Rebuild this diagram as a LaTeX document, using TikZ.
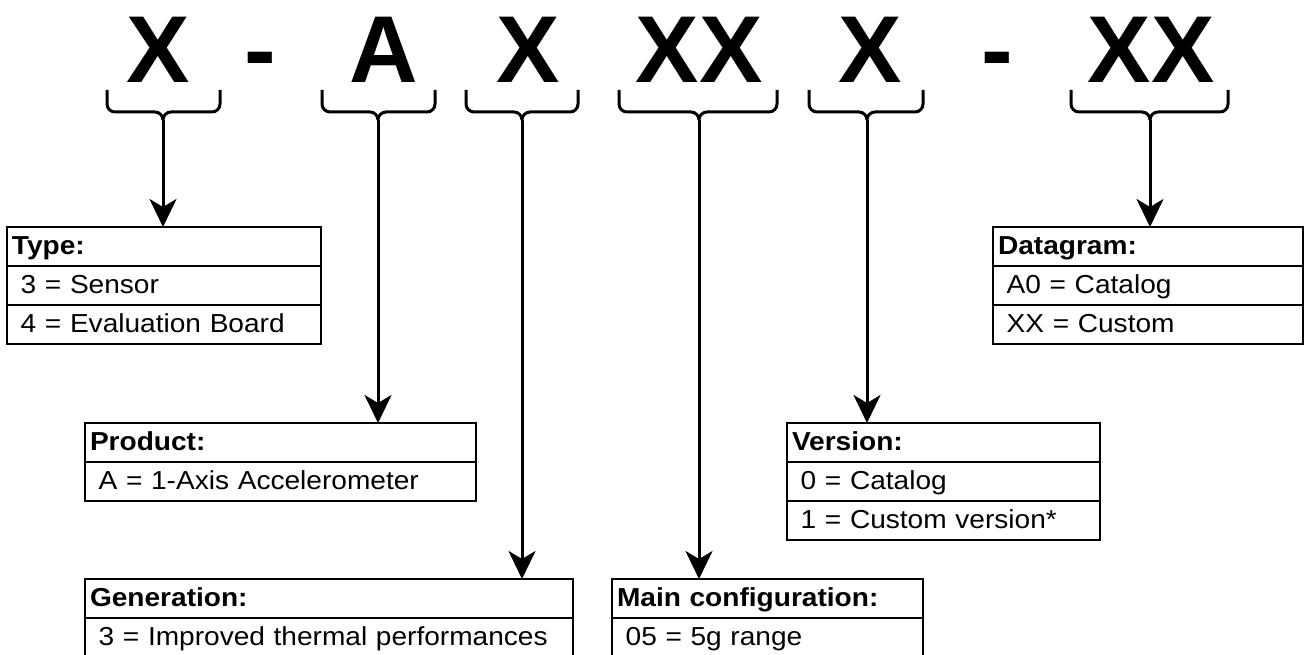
\documentclass[tikz,border=0pt]{standalone}
\usepackage{fontspec}
\setmainfont{Liberation Sans}[FakeStretch=1.08]
\newfontfamily\codefont{Liberation Sans}
\usetikzlibrary{arrows.meta, positioning}

\begin{document}
\begin{tikzpicture}[x=1pt, y=-1pt,
    code/.style={font=\codefont\fontsize{95}{95}\selectfont\bfseries, inner sep=0pt, anchor=base},
    brace/.style={line width=3pt, rounded corners=8pt},
    link/.style={line width=3pt, -{Stealth[length=28pt, width=27pt, inset=8pt]}},
    row/.style={draw, line width=1.8pt, text width=#1, inner xsep=5pt, inner ysep=0pt,
                outer sep=0pt, minimum height=39pt, text height=20pt, text depth=5pt,
                font=\fontsize{26}{30}\selectfont},
    head/.style={row=#1, anchor=north west, font=\fontsize{26}{30}\selectfont\bfseries}]
      \useasboundingbox (0,0) rectangle (1306,655);

      % Nodes
      \node[code] (xt) at (158, 83) {X};
      \node[code] (h1) at (260, 83) {-};
      \node[code] (xp) at (384, 83) {A};
      \node[code] (xg) at (528, 83) {X};
      \node[code] (xm) at (699, 83) {XX};
      \node[code] (xv) at (870, 83) {X};
      \node[code] (h2) at (997, 83) {-};
      \node[code] (xd) at (1151, 83) {XX};

      \node[head=304pt] (type) at (7, 227) {Type:};
      \node[row=304pt, below=0pt of type] (type1) {\ 3 = Sensor};
      \node[row=304pt, below=0pt of type1] (type2) {\ 4 = Evaluation Board};

      \node[head=381pt] (prod) at (85, 423) {Product:};
      \node[row=381pt, below=0pt of prod] (prod1) {\ A = 1-Axis Accelerometer};

      \node[head=478pt] (gen) at (85, 579) {Generation:};
      \node[row=478pt, below=0pt of gen] (gen1) {\ 3 = Improved thermal performances};

      \node[head=301pt] (conf) at (612, 579) {Main configuration:};
      \node[row=301pt, below=0pt of conf] (conf1) {\ 05 = 5g range};

      \node[head=303pt] (vers) at (787, 423) {Version:};
      \node[row=303pt, below=0pt of vers] (vers1) {\ 0 = Catalog};
      \node[row=303pt, below=0pt of vers1] (vers2) {\ 1 = Custom version*};

      \node[head=300pt] (dgram) at (993, 227) {Datagram:};
      \node[row=300pt, below=0pt of dgram] (dgram1) {\ A0 = Catalog};
      \node[row=300pt, below=0pt of dgram1] (dgram2) {\ XX = Custom};

      % Braces
      \coordinate (bt) at (163, 120);
      \coordinate (bp) at (378, 120);
      \coordinate (bg) at (522, 120);
      \coordinate (bm) at (699, 120);
      \coordinate (bv) at (867, 120);
      \coordinate (bd) at (1150, 120);
      \draw[brace] (107, 90) |- (163, 112) -- (bt) (220, 90) |- (163, 112) -- (bt);
      \draw[brace] (322, 90) |- (378, 112) -- (bp) (435, 90) |- (378, 112) -- (bp);
      \draw[brace] (466, 90) |- (522, 112) -- (bg) (578, 90) |- (522, 112) -- (bg);
      \draw[brace] (619, 90) |- (699, 112) -- (bm) (777, 90) |- (699, 112) -- (bm);
      \draw[brace] (809, 90) |- (867, 112) -- (bv) (923, 90) |- (867, 112) -- (bv);
      \draw[brace] (1071, 90) |- (1150, 112) -- (bd) (1228, 90) |- (1150, 112) -- (bd);

      % Edges
      \path[link] (bt) edge (bt |- type.north)
                  (bp) edge (bp |- prod.north)
                  (bg) edge (bg |- gen.north)
                  (bm) edge (bm |- conf.north)
                  (bv) edge (bv |- vers.north)
                  (bd) edge (bd |- dgram.north);

    \end{tikzpicture}
\end{document}
